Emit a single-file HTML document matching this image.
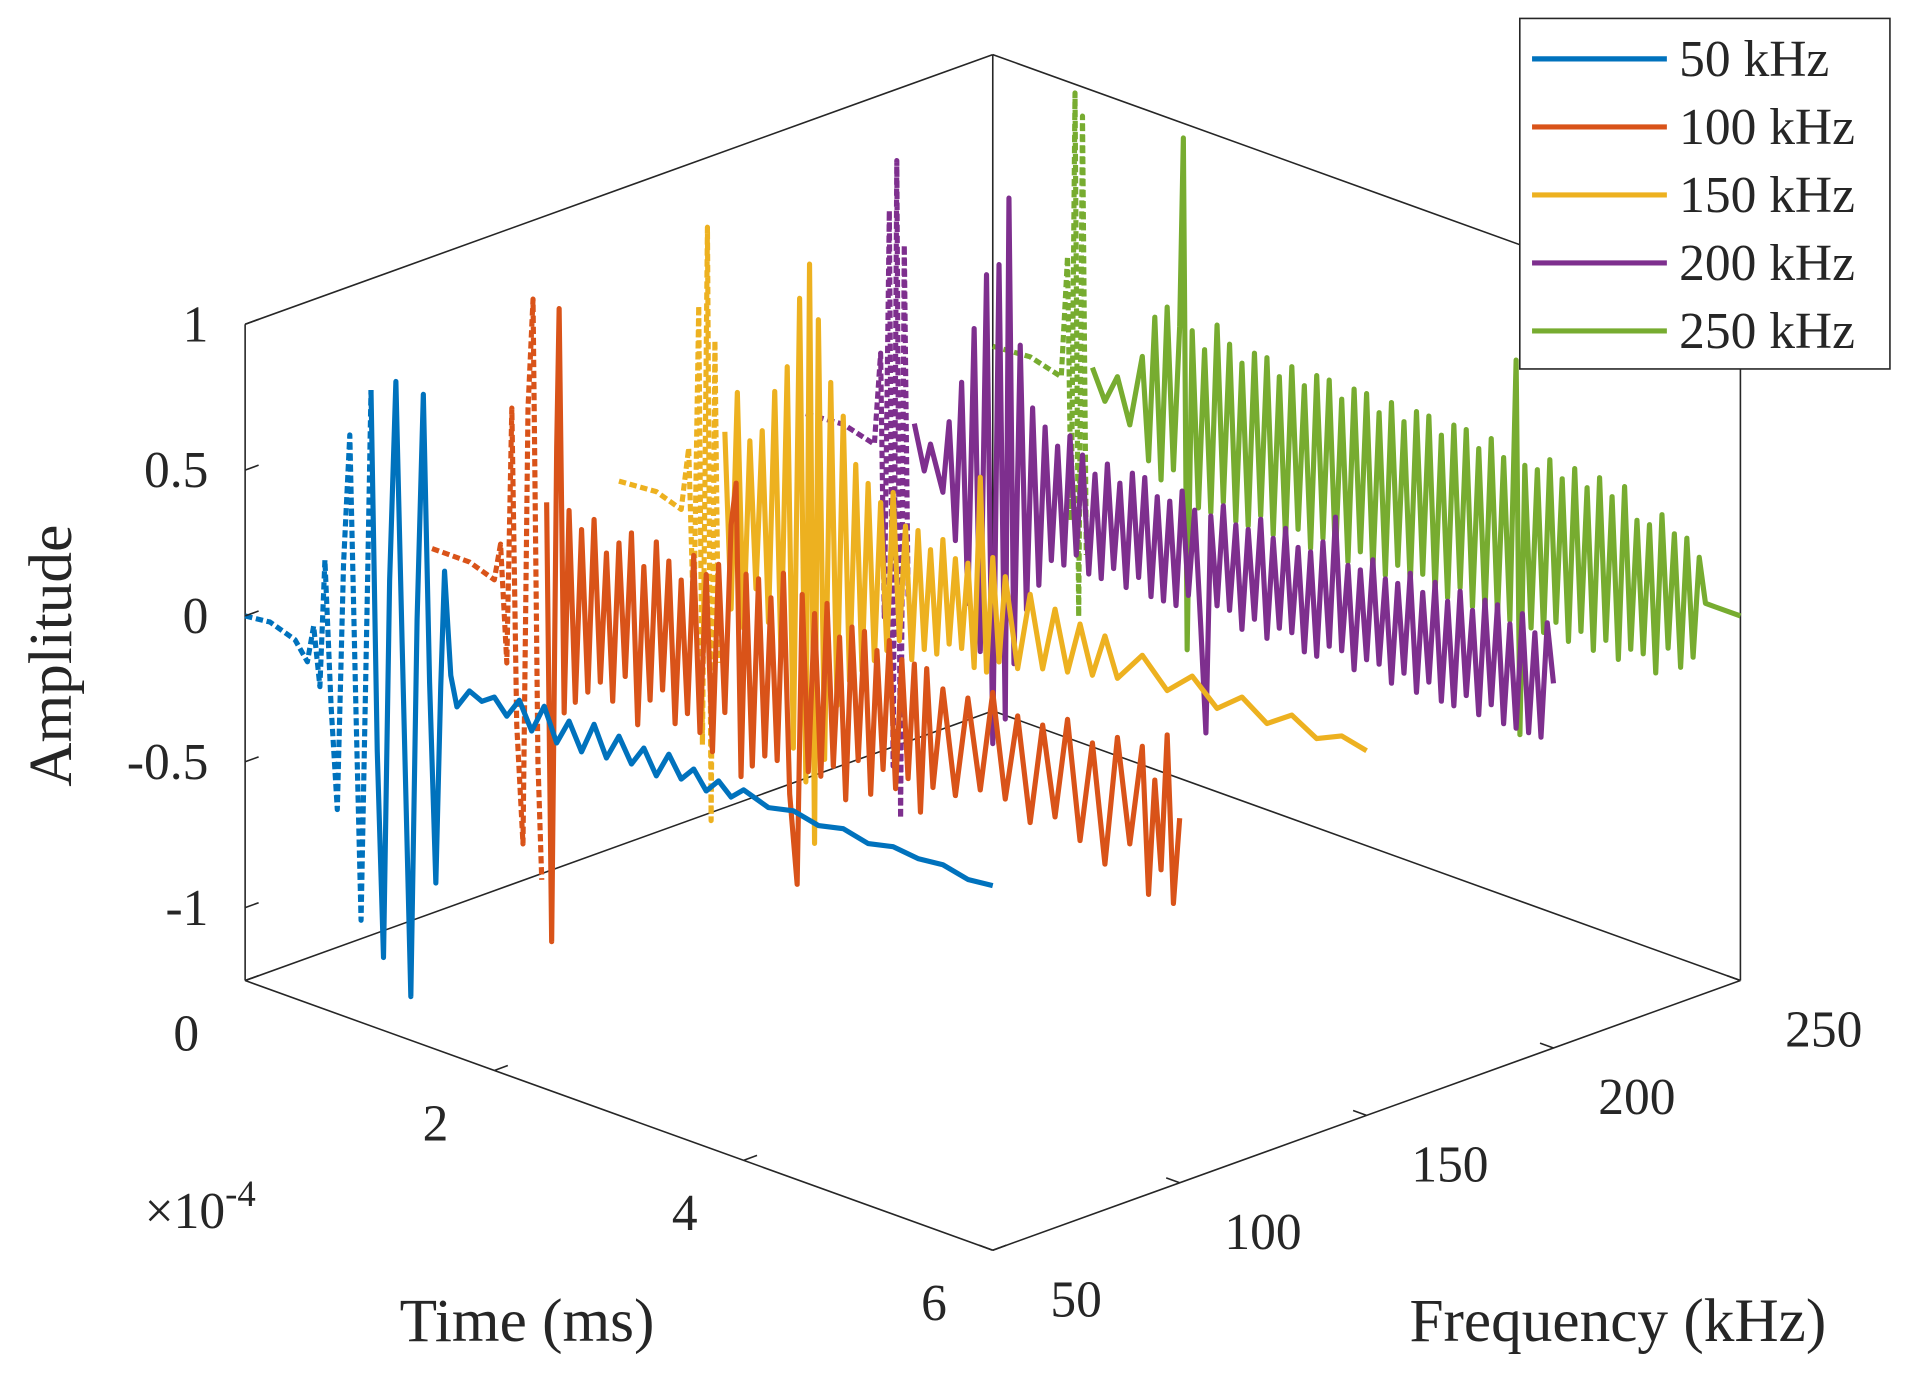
<!DOCTYPE html>
<html><head><meta charset="utf-8"><style>
html,body{margin:0;padding:0;background:#fff;}
svg{display:block;}
text{font-family:"Liberation Serif",serif;fill:#262626;}
</style></head><body>
<svg id="chart" width="1912" height="1376" viewBox="0 0 1560 1122.6" xmlns="http://www.w3.org/2000/svg">
<g id="box"></g>
<g id="series"></g>
<g id="ticks"></g>
<text x="118" y="1002" font-size="42">×10<tspan dy="-18" font-size="30">-4</tspan></text>
<text x="430" y="1094" font-size="50" text-anchor="middle">Time (ms)</text>
<text x="1320" y="1094" font-size="50" text-anchor="middle">Frequency (kHz)</text>
<text transform="translate(58,535) rotate(-90)" font-size="50" text-anchor="middle">Amplitude</text>
<g id="legend"></g>
</svg>
<script>
const seriesNames = ["50 kHz","100 kHz","150 kHz","200 kHz","250 kHz"];
const seriesFreqs = [50,100,150,200,250];
const seriesColors = ["#0072BD","#D95319","#EDB120","#7E2F8E","#77AC30"];
const dashEnds = [1.01,0.9,0.82,0.83,0.77];
const zTicks = [-1,-0.5,0,0.5,1];
const zTickLabels = ["-1","-0.5","0","0.5","1"];
const tTicks = [0,2,4,6];
const tTickLabels = ["0","2","4","6"];
const fTicks = [50,100,150,200,250];
const fTickLabels = ["50","100","150","200","250"];

const blueT=[0,0.2,0.4,0.5,0.55,0.6,0.64,0.69,0.74,0.79,0.84,0.89,0.93,0.98,1.01,1.06,1.11,1.16,1.21,1.26,1.33,1.38,1.43,1.48,1.53,1.57,1.6,1.65,1.7,1.8,1.9,2.0,2.1,2.2,2.3,2.4,2.5,2.6,2.7,2.8,2.9,3.0,3.1,3.2,3.3,3.4,3.5,3.6,3.7,3.8,3.9,4.0,4.2,4.4,4.6,4.8,5.0,5.2,5.4,5.6,5.8,6];
const blueA=[0,0.01,-0.02,-0.08,0.05,-0.15,0.29,-0.2,-0.55,0.3,0.75,-0.2,-0.9,0.2,0.93,-0.3,-1.0,0.3,0.99,0.1,-1.1,0.2,0.98,0.0,-0.68,0.0,0.4,0.05,-0.05,0.02,0.0,0.03,-0.02,0.05,-0.04,0.06,-0.05,0.04,-0.05,0.06,-0.04,0.05,-0.03,0.04,-0.04,0.05,-0.02,0.03,-0.03,0.02,-0.02,0.02,-0.01,0.01,-0.01,0.01,-0.01,0.01,0.0,0.01,-0.01,0];
const orangeT=[0,0.3,0.5,0.55,0.6,0.64,0.68,0.73,0.77,0.81,0.85,0.88,0.92,0.96,1.0,1.02,1.06,1.1,1.15,1.2,1.25,1.3,1.35,1.4,1.45,1.5,1.55,1.6,1.65,1.7,1.75,1.8,1.85,1.9,1.95,2.0,2.05,2.1,2.15,2.2,2.25,2.3,2.35,2.4,2.44,2.48,2.52,2.57,2.62,2.67,2.72,2.77,2.82,2.87,2.93,2.97,3.02,3.07,3.12,3.17,3.22,3.27,3.32,3.37,3.42,3.47,3.52,3.57,3.62,3.67,3.72,3.77,3.82,3.87,3.92,3.97,4.02,4.1,4.2,4.3,4.4,4.5,4.6,4.7,4.8,4.9,5.0,5.1,5.2,5.3,5.4,5.5,5.6,5.7,5.75,5.8,5.85,5.9,5.95,6];
const orangeA=[0,0,-0.03,0.1,-0.3,0.58,-0.5,-0.9,0.6,0.98,-0.6,-1.0,0.3,-1.2,0.5,0.98,-0.4,0.3,-0.35,0.25,-0.3,0.3,-0.25,0.2,-0.3,0.25,-0.2,0.3,-0.35,0.2,-0.25,0.3,-0.2,0.25,-0.3,0.2,-0.25,0.3,-0.3,0.25,-0.35,0.3,-0.2,0.45,0.6,-0.4,0.3,-0.35,0.3,-0.3,0.25,-0.3,0.35,-0.4,-0.7,0.3,-0.3,0.25,-0.3,0.3,-0.25,0.2,-0.35,0.25,-0.2,0.25,-0.3,0.2,-0.2,0.25,-0.25,0.2,-0.2,0.2,-0.3,0.2,-0.2,0.15,-0.2,0.15,-0.15,0.2,-0.15,0.15,-0.2,0.15,-0.15,0.2,-0.2,0.15,-0.25,0.2,-0.15,0.2,-0.3,0.1,-0.2,0.27,-0.3,0];
const yellowT=[0,0.3,0.5,0.56,0.6,0.64,0.67,0.71,0.74,0.77,0.8,0.85,0.9,0.95,1.0,1.05,1.1,1.15,1.2,1.25,1.3,1.35,1.4,1.45,1.5,1.53,1.57,1.6,1.65,1.7,1.75,1.8,1.85,1.9,1.95,2.0,2.05,2.1,2.15,2.2,2.25,2.3,2.35,2.4,2.45,2.5,2.55,2.6,2.65,2.7,2.75,2.8,2.85,2.9,2.95,3.0,3.05,3.1,3.2,3.3,3.4,3.5,3.6,3.7,3.8,3.9,4.0,4.2,4.4,4.6,4.8,5.0,5.2,5.4,5.6,5.8,6];
const yellowA=[0,0.01,-0.02,0.2,-0.4,0.7,-0.8,0.98,-1.05,0.6,-0.5,0.3,-0.3,0.45,-0.35,0.3,-0.2,0.35,-0.3,0.5,-0.4,0.6,-0.7,0.85,-0.8,0.98,-1.0,0.8,-0.7,0.6,-0.5,0.5,-0.4,0.35,-0.35,0.3,-0.3,0.25,-0.25,0.3,-0.2,0.2,-0.25,0.2,-0.2,0.15,-0.2,0.2,-0.15,0.15,-0.15,0.15,-0.2,0.46,-0.2,0.2,-0.15,0.15,-0.15,0.12,-0.12,0.1,-0.1,0.08,-0.08,0.07,-0.06,0.05,-0.04,0.04,-0.04,0.03,-0.03,0.03,-0.02,0.02,0];
const purpleT=[0,0.3,0.55,0.6,0.63,0.67,0.7,0.73,0.76,0.79,0.82,0.87,0.95,1.0,1.1,1.15,1.2,1.25,1.3,1.35,1.4,1.45,1.5,1.55,1.6,1.63,1.67,1.72,1.77,1.82,1.87,1.92,1.97,2.02,2.07,2.12,2.17,2.22,2.27,2.32,2.37,2.42,2.47,2.52,2.57,2.62,2.67,2.72,2.77,2.82,2.87,2.92,2.97,3.02,3.07,3.12,3.17,3.21,3.25,3.3,3.35,3.4,3.45,3.5,3.55,3.6,3.65,3.7,3.75,3.8,3.85,3.9,3.95,4.0,4.05,4.1,4.15,4.2,4.25,4.3,4.35,4.4,4.45,4.5,4.55,4.6,4.65,4.7,4.75,4.8,4.85,4.9,4.95,5.0,5.05,5.1,5.15,5.2,5.25,5.3,5.35,5.4,5.45,5.5,5.55,5.6,5.65,5.7,5.75,5.8,5.85,5.9,5.95,6];
const purpleA=[0,0.01,-0.02,0.3,-0.6,0.8,-1.1,0.98,-1.27,0.7,-0.5,0.1,-0.05,0.05,-0.1,0.15,-0.25,0.3,-0.45,0.5,-0.6,0.7,-0.9,0.75,-0.8,0.99,-0.6,0.5,-0.4,0.3,-0.3,0.25,-0.2,0.2,-0.2,0.25,-0.15,0.2,-0.2,0.15,-0.2,0.2,-0.15,0.15,-0.2,0.2,-0.15,0.2,-0.2,0.15,-0.2,0.15,-0.2,0.2,-0.15,0.15,-0.25,-0.6,0.15,-0.15,0.2,-0.15,0.15,-0.2,0.15,-0.15,0.2,-0.2,0.15,-0.15,0.2,-0.15,0.15,-0.2,0.15,-0.2,0.2,-0.15,0.3,-0.15,0.15,-0.2,0.15,-0.15,0.2,-0.15,0.15,-0.2,0.15,-0.15,0.2,-0.2,0.15,-0.15,0.2,-0.2,0.15,-0.2,0.2,-0.15,0.15,-0.2,0.2,-0.15,0.2,-0.2,0.15,-0.2,0.2,-0.2,0.15,-0.2,0.2,0];
const greenT=[0,0.3,0.55,0.6,0.63,0.66,0.69,0.72,0.75,0.8,0.9,1.0,1.1,1.2,1.25,1.3,1.35,1.4,1.45,1.5,1.53,1.56,1.6,1.65,1.7,1.75,1.8,1.85,1.9,1.95,2.0,2.05,2.1,2.15,2.2,2.25,2.3,2.35,2.4,2.45,2.5,2.55,2.6,2.65,2.7,2.75,2.8,2.85,2.9,2.95,3.0,3.05,3.1,3.15,3.2,3.25,3.3,3.35,3.4,3.45,3.5,3.55,3.6,3.65,3.7,3.75,3.8,3.85,3.9,3.95,4.0,4.05,4.1,4.15,4.2,4.23,4.27,4.32,4.37,4.42,4.47,4.52,4.57,4.62,4.67,4.72,4.77,4.82,4.87,4.92,4.97,5.02,5.07,5.12,5.17,5.22,5.27,5.32,5.37,5.42,5.47,5.52,5.57,5.62,5.67,5.72,5.8,6];
const greenA=[0,0.01,-0.02,0.4,-0.5,0.97,-0.82,0.9,-0.6,0.05,-0.05,0.05,-0.1,0.15,-0.2,0.3,-0.25,0.35,-0.2,0.3,0.95,-0.8,0.3,-0.3,0.25,-0.3,0.35,-0.25,0.3,-0.3,0.25,-0.3,0.3,-0.25,0.3,-0.3,0.25,-0.3,0.3,-0.25,0.25,-0.3,0.3,-0.25,0.3,-0.3,0.25,-0.3,0.3,-0.25,0.3,-0.3,0.25,-0.3,0.3,-0.25,0.25,-0.3,0.3,-0.25,0.3,-0.3,0.25,-0.3,0.3,-0.25,0.3,-0.3,0.25,-0.3,0.3,-0.3,0.25,-0.3,0.6,-0.68,0.25,-0.3,0.25,-0.3,0.3,-0.25,0.25,-0.3,0.3,-0.25,0.25,-0.3,0.3,-0.25,0.25,-0.3,0.3,-0.25,0.2,-0.25,0.2,-0.3,0.25,-0.2,0.2,-0.25,0.2,-0.2,0.15,0.0,0.0,0];

const seriesT=[blueT,orangeT,yellowT,purpleT,greenT];
const seriesA=[blueA,orangeA,yellowA,purpleA,greenA];

const NS="http://www.w3.org/2000/svg";
const T0=200,Y0=800,TW=610,TH=220,ZS=238,ZMIN=-1.25;
function px(t,f){return T0+t/6*TW+(f-50)/200*TW;}
function py(t,f,z){return Y0+t/6*TH-(f-50)/200*TH-(z-ZMIN)*ZS;}
function P(t,f,z){return [px(t,f),py(t,f,z)];}
function mk(tag,attrs,parent){const e=document.createElementNS(NS,tag);for(const k in attrs)e.setAttribute(k,attrs[k]);parent.appendChild(e);return e;}

const box=document.getElementById('box');
const bl=[[[0,50,ZMIN],[0,250,ZMIN]],[[0,250,ZMIN],[6,250,ZMIN]],[[0,250,ZMIN],[0,250,1]],
[[0,50,ZMIN],[0,50,1]],[[0,50,1],[0,250,1]],[[0,250,1],[6,250,1]],[[6,250,1],[6,250,ZMIN]],
[[0,50,ZMIN],[6,50,ZMIN]],[[6,50,ZMIN],[6,250,ZMIN]]];
bl.forEach(s=>{const a=P(...s[0]),b=P(...s[1]);
const l=mk('line',{x1:a[0],y1:a[1],x2:b[0],y2:b[1],stroke:'#262626','stroke-width':1.3},box);

});

const sg=document.getElementById('series');
for(let i=4;i>=0;i--){
  const f=seriesFreqs[i],T=seriesT[i],A=seriesA[i];
  const pre=[],post=[];
  for(let k=0;k<T.length;k++){const p=P(T[k],f,A[k]);const s=p[0].toFixed(1)+','+p[1].toFixed(1);
    if(T[k]<=dashEnds[i])pre.push(s);if(T[k]>=dashEnds[i]||k>0&&T[k-1]<=dashEnds[i]&&T[k]>dashEnds[i])post.push(s);}
  const g=mk('g',{},sg);
  
  
  const l1=mk('polyline',{points:pre.join(' '),fill:'none',stroke:seriesColors[i],'stroke-width':4.2,'stroke-dasharray':'6 3','stroke-linejoin':'round'},g);
  
  
  const l2=mk('polyline',{points:post.join(' '),fill:'none',stroke:seriesColors[i],'stroke-width':4.2,'stroke-linejoin':'round'},g);
  
  
}

const tk=document.getElementById('ticks');
zTicks.forEach((z,i)=>{const p=P(0,50,z);
 const l=mk('line',{x1:p[0],y1:p[1],x2:p[0]+11,y2:p[1]-4,stroke:'#262626','stroke-width':1.3},tk);
 
 
 const t=mk('text',{x:p[0]-30,y:p[1]+14,'font-size':42,'text-anchor':'end'},tk);t.textContent=zTickLabels[i];
 
 });
tTicks.forEach((v,i)=>{const p=P(v,50,ZMIN);
 const l=mk('line',{x1:p[0],y1:p[1],x2:p[0]+11,y2:p[1]-4,stroke:'#262626','stroke-width':1.3},tk);
 
 
 const t=mk('text',{x:p[0]-48,y:p[1]+57,'font-size':42,'text-anchor':'middle'},tk);t.textContent=tTickLabels[i];
 
 });
fTicks.forEach((v,i)=>{const p=P(6,v,ZMIN);
 const l=mk('line',{x1:p[0],y1:p[1],x2:p[0]-11,y2:p[1]-4,stroke:'#262626','stroke-width':1.3},tk);
 
 
 const t=mk('text',{x:p[0]+68,y:p[1]+54,'font-size':42,'text-anchor':'middle'},tk);t.textContent=fTickLabels[i];
 
 });

const lg=document.getElementById('legend');
const bx=mk('rect',{x:1240,y:15,width:302,height:286,fill:'#fff',stroke:'#262626','stroke-width':1.3},lg);


seriesNames.forEach((n,i)=>{const y=48+i*55.5;
 const g=mk('g',{},lg);
 
 
 mk('line',{x1:1250,y1:y,x2:1360,y2:y,stroke:seriesColors[i],'stroke-width':4.2},g);
 const t=mk('text',{x:1370,y:y+14,'font-size':42},g);t.textContent=n;});
</script>
</body></html>
